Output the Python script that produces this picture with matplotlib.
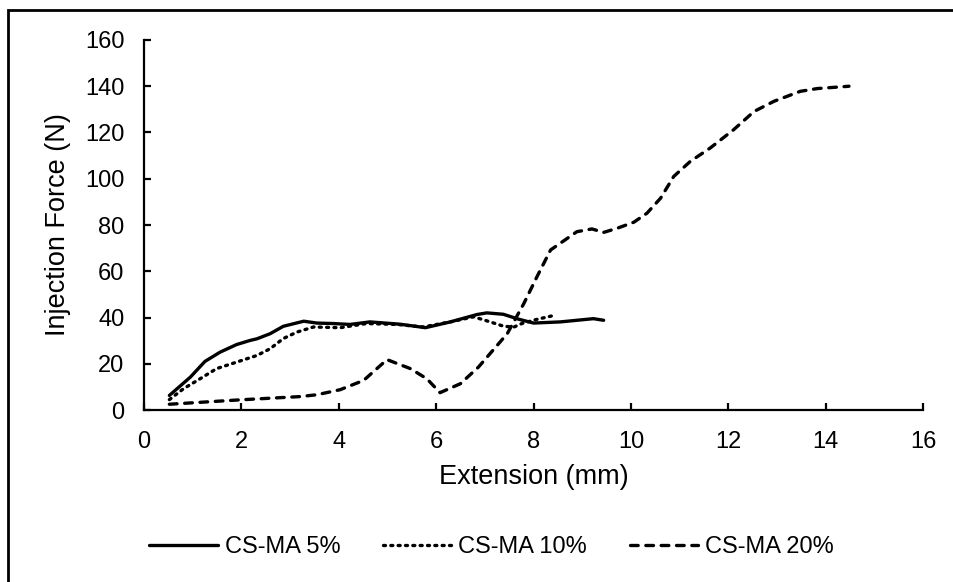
import matplotlib
matplotlib.use("Agg")
import matplotlib.pyplot as plt
from matplotlib.patches import Rectangle

plt.rcParams['font.family'] = ['Liberation Sans', 'DejaVu Sans']

# Extension (mm) and injection force (N) for each formulation
ext_5 = [0.52, 0.95, 1.25, 1.56, 1.9, 2.18, 2.32, 2.59, 2.86, 3.28, 3.55, 3.88,
         4.23, 4.64, 5.26, 5.78, 6.29, 6.84, 7.04, 7.38, 7.69, 8.0, 8.55, 9.23, 9.44]
force_5 = [6.3, 14.2, 21.0, 25.0, 28.3, 30.1, 30.8, 33.0, 36.2, 38.4, 37.6, 37.4,
           37.0, 38.1, 37.1, 35.6, 38.1, 41.3, 42.0, 41.4, 39.3, 37.6, 38.1, 39.5, 38.8]

ext_10 = [0.52, 0.81, 1.15, 1.49, 1.9, 2.32, 2.59, 2.86, 3.14, 3.48, 4.03, 4.57,
          5.2, 5.73, 6.29, 6.77, 7.11, 7.39, 7.6, 7.76, 8.07, 8.38]
force_10 = [4.5, 9.2, 13.5, 17.9, 20.7, 23.6, 26.5, 30.9, 33.7, 35.9, 35.6, 37.4,
            37.0, 35.9, 38.1, 40.3, 38.1, 36.2, 35.9, 37.4, 39.2, 40.7]

ext_20 = [0.52, 1.97, 3.2, 3.55, 4.03, 4.51, 4.99, 5.47, 5.81, 6.08, 6.5, 6.87,
          7.46, 7.8, 8.07, 8.35, 8.89, 9.2, 9.44, 9.72, 10.06, 10.33, 10.61, 10.88,
          11.22, 11.63, 12.11, 12.53, 12.94, 13.48, 13.83, 14.48]
force_20 = [2.5, 4.4, 5.8, 6.6, 8.8, 12.8, 21.8, 17.9, 13.5, 7.5, 11.4, 18.6,
            33.0, 46.0, 57.6, 69.2, 77.1, 78.3, 76.8, 78.6, 81.2, 85.1, 91.6, 101.0,
            107.5, 113.3, 121.2, 129.1, 133.5, 137.8, 139.0, 140.0]

series_labels = ['CS-MA 5%', 'CS-MA 10%', 'CS-MA 20%']
x_ticks = [0, 2, 4, 6, 8, 10, 12, 14, 16]
y_ticks = [0, 20, 40, 60, 80, 100, 120, 140, 160]

fig = plt.figure(figsize=(9.54, 5.82), dpi=100)
ax = fig.add_axes([0.151, 0.2955, 0.8165, 0.6358])

lw = 2.4
ax.plot(ext_5, force_5, color='black', lw=lw, ls='-', label=series_labels[0],
        solid_capstyle='round', solid_joinstyle='round')
ax.plot(ext_10, force_10, color='black', lw=lw, ls=(0, (0.6, 1.6)), label=series_labels[1],
        dash_capstyle='round')
ax.plot(ext_20, force_20, color='black', lw=lw, ls=(0, (2.3, 2.3)), label=series_labels[2],
        dash_capstyle='round', dash_joinstyle='round')

ax.set_xlim(0, 16)
ax.set_ylim(0, 160)
ax.set_xticks(x_ticks)
ax.set_yticks(y_ticks)
ax.set_xticklabels([str(v) for v in x_ticks])
ax.set_yticklabels([str(v) for v in y_ticks])

for s in ['top', 'right']:
    ax.spines[s].set_visible(False)
for s in ['left', 'bottom']:
    ax.spines[s].set_linewidth(1.6)
ax.tick_params(direction='in', length=5, width=1.6, labelsize=17, colors='black')
ax.tick_params(axis='x', pad=15)
ax.tick_params(axis='y', pad=14)

ax.set_xlabel('Extension (mm)', fontsize=19.5, va='center')
ax.xaxis.set_label_coords(0.5, -0.18)
ax.set_ylabel('Injection Force (N)', fontsize=19.5, va='center')
ax.yaxis.set_label_coords(-0.11, 0.5)

ax.legend(loc='center', bbox_to_anchor=(0.446, -0.37), ncol=3, frameon=False,
          fontsize=17, handlelength=2.9, columnspacing=1.8, handletextpad=0.3)

# outer frame
fig.add_artist(Rectangle((8 / 954, -0.1), 1.2, 1 - 10 / 582 + 0.1, transform=fig.transFigure,
                         fill=False, edgecolor='black', lw=2.0))

fig.savefig('out.png', dpi=100)
